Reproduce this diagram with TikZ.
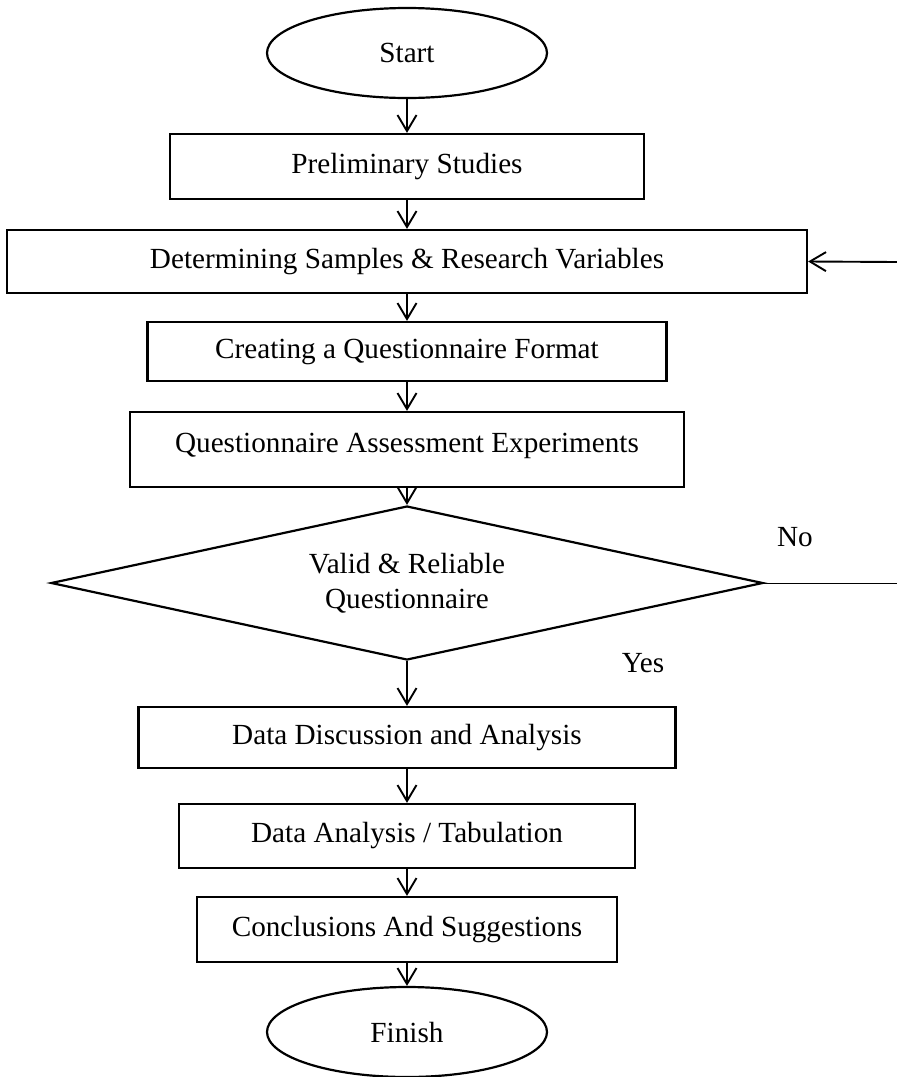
\documentclass[tikz,border=0pt]{standalone}
\usepackage{fontspec}
\setmainfont{Liberation Serif}
\usetikzlibrary{shapes.geometric,arrows.meta}
\tikzset{
  box/.style={draw, line width=1.1pt, inner sep=0pt, align=center,
    font=\fontsize{14.6}{17.5}\selectfont},
  term/.style={box, ellipse, minimum width=140pt, minimum height=45pt},
  test/.style={box, diamond, aspect=4.62, minimum width=356pt, minimum height=77pt},
  lbl/.style={inner sep=0pt, font=\fontsize{14.6}{17.5}\selectfont},
  flow/.style={-{Straight Barb[length=8pt,width=9.5pt]}, line width=0.95pt}
}
\begin{document}
\begin{tikzpicture}[x=0.5pt, y=-0.5pt]
\clip (0,0) rectangle (897,1077);
\node[term] (start) at (407,53) {Start};
\foreach \k/\y/\w/\h/\t in {prel/166.5/237/32.5/{Preliminary Studies},
    det/261.5/400/31.5/{Determining Samples \& Research Variables},
    crt/351.5/259.5/29.5/{Creating a Questionnaire Format},
    dis/737.5/268.5/30.5/{Data Discussion and Analysis},
    ana/836/228/32/{Data Analysis / Tabulation},
    con/929.5/210/32.5/{Conclusions And Suggestions}}
    \node[box, minimum width=\w pt, minimum height=\h pt] (\k) at (407,\y) {\t};
\node[box, minimum width=277pt, text height=20pt, text depth=17.5pt] (asm) at (407,449.5)
    {Questionnaire Assessment Experiments};
\node[test] (val) at (407,583) {Valid \& Reliable\\Questionnaire};
\node[term] (fin) at (407,1032) {Finish};
\node[lbl] (no) at (795,537) {No};
\node[lbl] (yes) at (643,663) {Yes};
\coordinate (noend) at (897,583);
\coordinate (back) at (897,262);
\foreach \i/\j in {start/prel, prel/det, det/crt, crt/asm, asm/val, val/dis, dis/ana, ana/con, con/fin}
    \draw[flow] (\i) -- (\j);
\draw[line width=0.5pt] (val.east) -- (noend);
\draw[flow] (back) -- (det.east);
\end{tikzpicture}
\end{document}
